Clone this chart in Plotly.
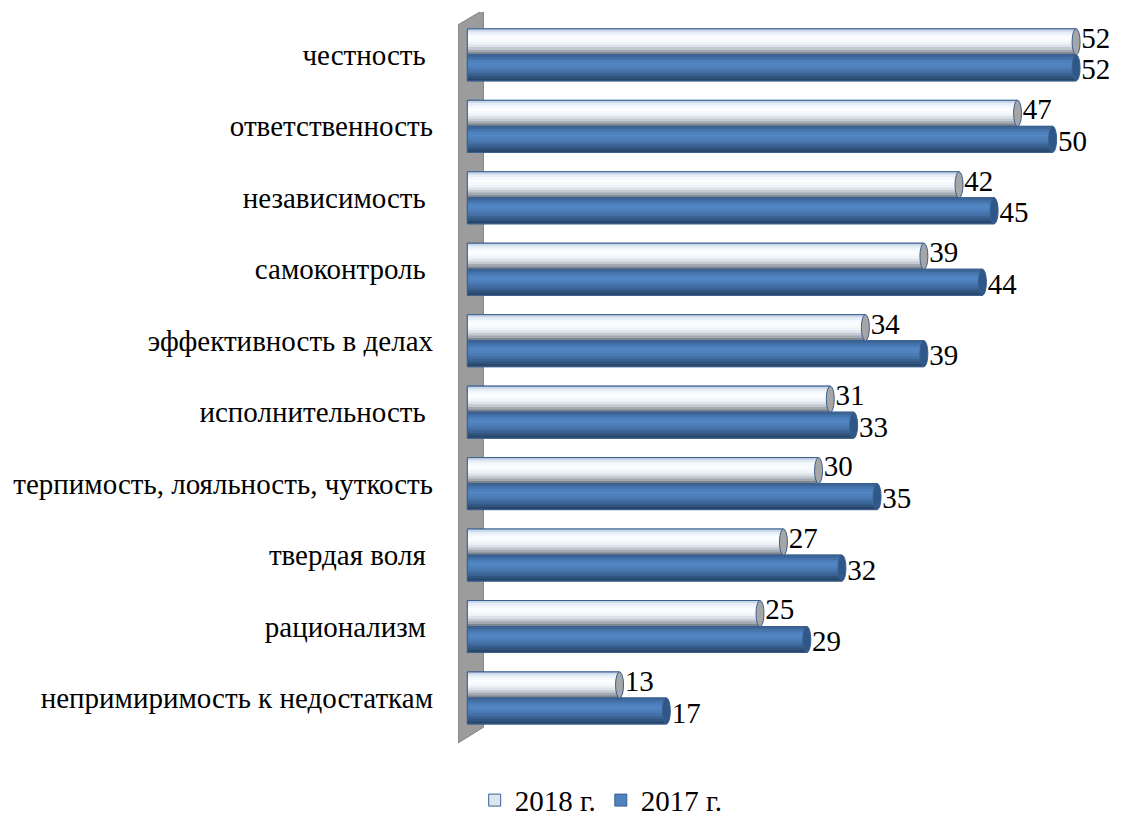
import plotly.graph_objects as go

categories = ["честность", "ответственность", "независимость", "самоконтроль",
              "эффективность в делах", "исполнительность",
              "терпимость, лояльность, чуткость", "твердая воля", "рационализм",
              "непримиримость к недостаткам"]
tick_labels = ["честность\u00a0", "ответственность", "независимость\u00a0", "самоконтроль\u00a0",
               "эффективность в делах", "исполнительность\u00a0",
               "терпимость, лояльность, чуткость", "твердая воля\u00a0", "рационализм\u00a0",
               "непримиримость к недостаткам"]
values_2018 = [52, 47, 42, 39, 34, 31, 30, 27, 25, 13]
values_2017 = [52, 50, 45, 44, 39, 33, 35, 32, 29, 17]
series_names = ["2018 г.", "2017 г."]

FONT = "Liberation Serif, Times New Roman, serif"
FS = 29
n = len(categories)
pos = [n - 1 - i for i in range(n)]
H = 0.364
OUTLINE = "#3a5f8f"

grad_2018 = ["#7d858e", "#a3aab2", "#c4cad0", "#dde3ea", "#eef3f8",
             "#f7fafd", "#fbfdff", "#f5f9fd", "#e6eef7", "#c9d7e8"]
grad_2017 = ["#29466b", "#31557f", "#3a6293", "#436fa5", "#4a79b3",
             "#4f81bd", "#5186c3", "#4d80bc", "#4574ac", "#3d6699"]

fig = go.Figure()

series = [
    (series_names[0], values_2018, 0.0, grad_2018, "#dce6f2", "#a6a6a6"),
    (series_names[1], values_2017, -H, grad_2017, "#4f81bd", "#2f5788"),
]

for name, vals, off, grad, lcol, capcol in series:
    fig.add_trace(go.Bar(x=vals, y=pos, orientation="h", offset=off, width=H,
                         marker=dict(color=lcol, line=dict(color=OUTLINE, width=1)),
                         name=name, showlegend=True, hoverinfo="skip"))

N = len(grad_2018)
for name, vals, off, grad, lcol, capcol in series:
    for k, c in enumerate(grad):
        w = H / N * (1.4 if k < N - 1 else 1.0)
        fig.add_trace(go.Bar(x=vals, y=pos, orientation="h", offset=off + k * H / N,
                             width=w, marker=dict(color=c, line=dict(width=0)),
                             showlegend=False, hoverinfo="skip"))
    fig.add_trace(go.Bar(x=vals, y=pos, orientation="h", offset=off, width=H,
                         marker=dict(color="rgba(0,0,0,0)", line=dict(color=OUTLINE, width=1)),
                         showlegend=False, hoverinfo="skip"))

for name, vals, off, grad, lcol, capcol in series:
    for v, p in zip(vals, pos):
        fig.add_shape(type="circle", xref="x", yref="y",
                      x0=v - 0.34, x1=v + 0.34, y0=p + off, y1=p + off + H,
                      fillcolor=capcol, line=dict(color=OUTLINE, width=1), layer="above")

fig.add_trace(go.Scatter(x=[v + 0.45 for v in values_2018], y=[p + H / 2 + 0.02 for p in pos],
                         mode="text", text=[str(v) for v in values_2018],
                         textposition="middle right",
                         textfont=dict(family=FONT, size=FS, color="#000000"),
                         showlegend=False, hoverinfo="skip", cliponaxis=False))
fig.add_trace(go.Scatter(x=[v + 0.45 for v in values_2017], y=[p - H / 2 - 0.06 for p in pos],
                         mode="text", text=[str(v) for v in values_2017],
                         textposition="middle right",
                         textfont=dict(family=FONT, size=FS, color="#000000"),
                         showlegend=False, hoverinfo="skip", cliponaxis=False))

fig.add_shape(type="path", xref="x", yref="y",
              path="M -0.8,9.42 L 1.37,9.63 L 1.37,-0.41 L -0.8,-0.63 Z",
              fillcolor="#9c9c9c", line=dict(color="#808080", width=1), layer="below")

fig.update_layout(
    width=1122, height=819,
    barmode="overlay",
    plot_bgcolor="white", paper_bgcolor="white",
    margin=dict(l=458, r=19, t=12, b=71, autoexpand=False),
    font=dict(family=FONT, size=FS, color="#000000"),
    xaxis=dict(range=[-0.8, 54.3], visible=False, fixedrange=True),
    yaxis=dict(range=[-0.7, 9.6], tickvals=pos, ticktext=tick_labels,
               showgrid=False, zeroline=False, showline=False, ticks="",
               automargin=False, fixedrange=True,
               ticklabelstandoff=24, tickfont=dict(family=FONT, size=FS)),
    legend=dict(orientation="h", x=0.222, xanchor="center", y=-0.071, yanchor="middle",
                font=dict(family=FONT, size=FS), traceorder="normal",
                itemwidth=30),
    showlegend=True,
)

fig.write_html("out.html", config={"displayModeBar": False},
               post_script="document.body.style.margin='0';document.body.style.overflow='hidden';")
